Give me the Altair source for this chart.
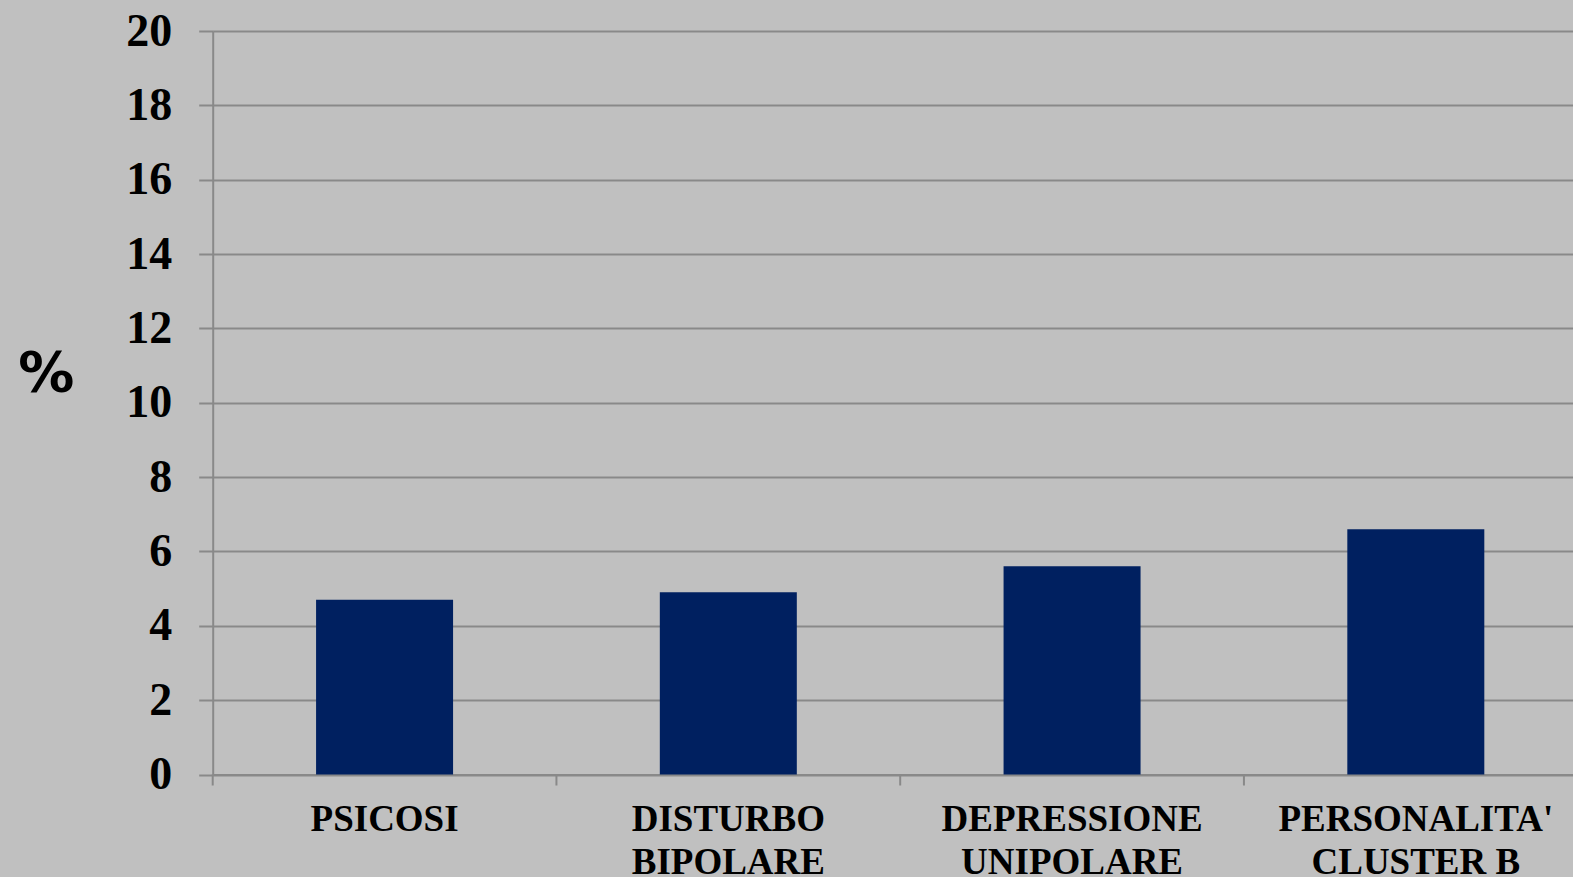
import altair as alt
import pandas as pd

# Categories ("|" marks a line break in the axis label) and percentages
categories = ["PSICOSI", "DISTURBO|BIPOLARE", "DEPRESSIONE|UNIPOLARE", "PERSONALITA'|CLUSTER B"]
values = [4.7, 4.9, 5.6, 6.6]
y_ticks = [0, 2, 4, 6, 8, 10, 12, 14, 16, 18, 20]

df = pd.DataFrame({"categoria": categories, "percentuale": values})

BG = "#C0C0C0"
NAVY = "#002060"
GRID = "#898989"
SERIF = "Liberation Serif"

W = 1360
H = 743.5

x_scale = alt.Scale(range=[0, 1375], paddingInner=0, paddingOuter=0)

bars = alt.Chart(df).mark_bar(size=137, color=NAVY).encode(
    x=alt.X(
        "categoria:N",
        sort=categories,
        scale=x_scale,
        axis=alt.Axis(
            title=None,
            labelAngle=0,
            labelFont=SERIF,
            labelFontWeight="bold",
            labelFontSize=37,
            labelLineHeight=43,
            labelColor="black",
            labelPadding=27,
            labelLimit=0,
            labelExpr="split(datum.label, '|')",
            ticks=False,
            tickSize=0,
            grid=False,
            domainColor=GRID,
            domainWidth=2,
        ),
    ),
    y=alt.Y(
        "percentuale:Q",
        scale=alt.Scale(domain=[0, 20], nice=False),
        axis=alt.Axis(
            values=y_ticks,
            title="%",
            titleAngle=0,
            titleFont="DejaVu Sans",
            titleFontWeight="bold",
            titleFontSize=56,
            titleColor="black",
            titleAlign="center",
            titleBaseline="middle",
            titleX=-167,
            titleY=342,
            labelFont=SERIF,
            labelFontWeight="bold",
            labelFontSize=46,
            labelColor="black",
            labelPadding=27,
            tickSize=14,
            tickColor=GRID,
            tickWidth=2,
            domainColor=GRID,
            domainWidth=2,
            gridColor=GRID,
            gridWidth=2,
        ),
    ),
)

# Category separator ticks hanging below the baseline at each band start
separators = alt.Chart(df).mark_rule(color=GRID, strokeWidth=2).encode(
    x=alt.X("categoria:N", sort=categories, scale=x_scale, bandPosition=0),
    y=alt.value(H),
    y2=alt.value(H + 11),
)

chart = (
    alt.layer(bars, separators)
    .properties(
        width=W,
        height=H,
        background=BG,
        autosize=alt.AutoSizeParams(type="none"),
        padding={"left": 212.7, "top": 31, "right": 0, "bottom": 877 - 31 - H},
    )
    .configure_view(stroke=None)
)

chart.save("out.html", embed_options={"renderer": "svg", "actions": False})
